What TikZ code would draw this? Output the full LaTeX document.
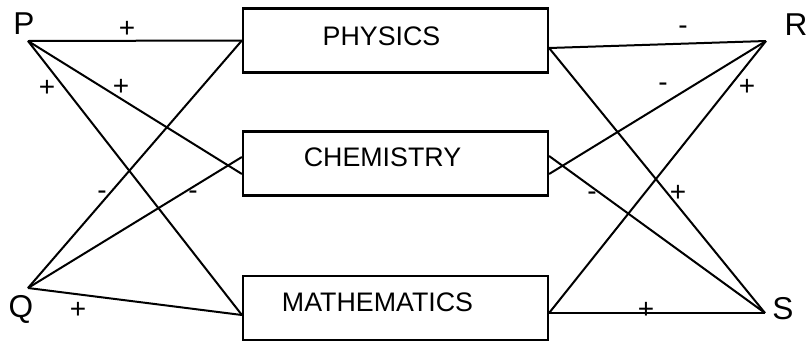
\documentclass[tikz,border=0pt]{standalone}
\usepackage{fontspec}
\setmainfont{Liberation Sans}
\usetikzlibrary{calc}

\begin{document}
\begin{tikzpicture}[
    x=0.5pt, y=-0.5pt,
    subj/.style={rectangle, draw, line width=1.1pt, minimum width=152.5pt, minimum height=32pt, inner sep=0pt},
    subjtext/.style={font=\fontsize{13.4}{15}\selectfont, inner sep=0pt},
    letter/.style={font=\fontsize{15.8}{18}\selectfont, inner sep=0pt},
    sign/.style={font=\fontsize{14}{16}\selectfont, inner sep=0pt},
    link/.style={line width=1pt}
]

\useasboundingbox (0,0) rectangle (809,343);

% Subjects
\node[subj, label={[subjtext, xshift=-7pt, yshift=2.25pt]center:PHYSICS}] (phy) at (395.5,40.5) {};
\node[subj, label={[subjtext, xshift=-6.5pt, yshift=3.25pt]center:CHEMISTRY}] (chem) at (395.5,163.5) {};
\node[subj, label={[subjtext, xshift=-9pt, yshift=3pt]center:MATHEMATICS}] (math) at (395.5,308) {};

% Letters
\node[letter] (P) at (24,24) {P};
\node[letter] (Q) at (21,309) {Q};
\node[letter] (R) at (796,25) {R};
\node[letter] (S) at (783,309) {S};

\coordinate (p) at (28,41);
\coordinate (q) at (28,288);
\coordinate (r) at (766,41);
\coordinate (s) at (765,313);

% Left links
\draw[link] (p) -- (phy.west);
\draw[link] (p) -- ([yshift=-5.25pt]chem.west);
\draw[link] (p) -- ([yshift=-3.5pt]math.west);
\draw[link] (q) -- (phy.west);
\draw[link] (q) -- ([yshift=3.25pt]chem.west);
\draw[link] (q) -- ([yshift=-3.5pt]math.west);

% Right links
\draw[link] ([yshift=-3.75pt]phy.east) -- (r);
\draw[link] ([yshift=-3.75pt]phy.east) -- (s);
\draw[link] ([yshift=-5.25pt]chem.east) -- (r);
\draw[link] ([yshift=3.75pt]chem.east) -- (s);
\draw[link] ([yshift=-2.5pt]math.east) -- (r);
\draw[link] ([yshift=-2.5pt]math.east) -- (s);

% Signs
\node[sign] (pphy) at (127,29) {+};
\node[sign] (pchem) at (121,87) {+};
\node[sign] (pmath) at (47,88) {+};
\node[sign] (qphy) at (102,195) {-};
\node[sign] (qchem) at (193,195) {-};
\node[sign] (qmath) at (78,310) {+};
\node[sign] (phyr) at (683,30) {-};
\node[sign] (chemr) at (663,87) {-};
\node[sign] (mathr) at (747,87) {+};
\node[sign] (phys) at (678,193) {+};
\node[sign] (chems) at (592,196) {-};
\node[sign] (maths) at (646,310) {+};

\end{tikzpicture}
\end{document}
